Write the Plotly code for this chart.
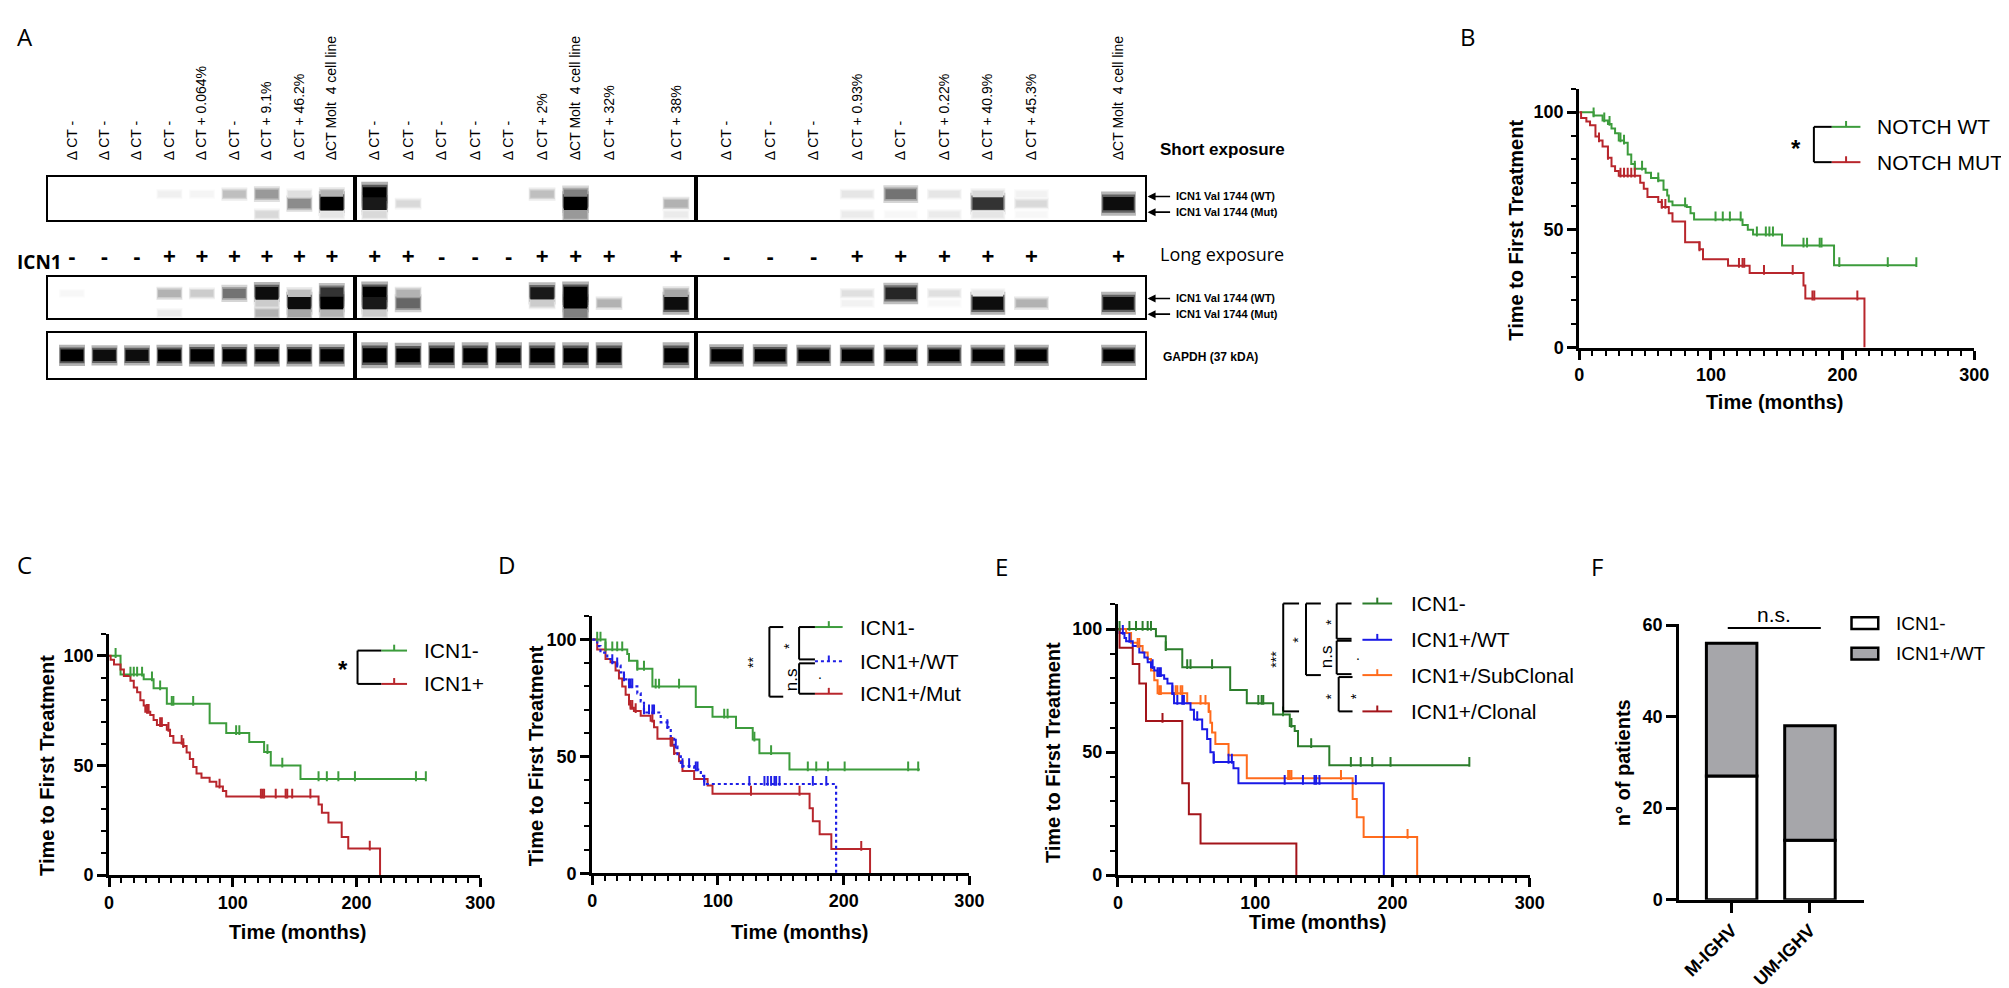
import numpy as np
import plotly.graph_objects as go

W, H = 2009, 988

# ---------------- panel A : western blot ----------------
lane_labels = [
    ["Δ CT -", "Δ CT -", "Δ CT -", "Δ CT -", "Δ CT + 0.064%", "Δ CT -", "Δ CT + 9.1%", "Δ CT + 46.2%", "ΔCT Molt  4 cell line"],
    ["Δ CT -", "Δ CT -", "Δ CT -", "Δ CT -", "Δ CT -", "Δ CT + 2%", "ΔCT Molt  4 cell line", "Δ CT + 32%", "", "Δ CT + 38%"],
    ["Δ CT -", "Δ CT -", "Δ CT -", "Δ CT + 0.93%", "Δ CT -", "Δ CT + 0.22%", "Δ CT + 40.9%", "Δ CT + 45.3%", "", "ΔCT Molt  4 cell line"],
]
icn1_status = [
    ["-", "-", "-", "+", "+", "+", "+", "+", "+"],
    ["+", "+", "-", "-", "-", "+", "+", "+", "", "+"],
    ["-", "-", "-", "+", "+", "+", "+", "+", "", "+"],
]

# band intensities (0 = no band, 1 = saturated)
short_wt = [[0, 0, 0, .06, .04, .25, .4, .12, .3],
            [1, 0, 0, 0, 0, .25, .5, 0, 0, 0],
            [0, 0, 0, .1, .55, .1, .15, .05, 0, 0]]
short_mut = [[0, 0, 0, 0, 0, 0, 0, .45, 1],
             [.9, .15, 0, 0, 0, 0, 1, 0, 0, .3],
             [0, 0, 0, 0, 0, 0, .8, .15, 0, .95]]
short_low = [[0, 0, 0, 0, 0, 0, .15, 0, .1],
             [.15, 0, 0, 0, 0, 0, .4, 0, 0, .08],
             [0, 0, 0, .08, .03, .08, .1, .03, 0, 0]]
long_wt = [[.03, 0, 0, .3, .2, .55, .95, .25, .8],
           [1, .3, 0, 0, 0, .9, 1, 0, 0, .35],
           [0, 0, 0, .12, .85, .12, .1, 0, 0, 0]]
long_mut = [[0, 0, 0, 0, 0, 0, .2, .95, 1],
            [.9, .6, 0, 0, 0, .2, 1, .3, 0, .95],
            [0, 0, 0, .05, 0, .03, .95, .3, 0, .95]]
long_low = [[0, 0, 0, .08, 0, 0, .3, .35, .3],
            [.2, 0, 0, 0, 0, 0, .5, 0, 0, 0],
            [0, 0, 0, 0, 0, 0, 0, 0, 0, 0]]
gapdh = [[.75, .7, .7, .75, .8, .8, .8, .8, .8],
         [1, .95, 1, 1, 1, 1, 1, 1, 0, 1],
         [.8, .8, .75, .75, .75, .75, .75, .75, 0, .75]]

# ---------------- panel B : NOTCH WT / MUT ----------------
b_wt_t = [10.9, 17.7, 21.8, 24.5, 27.2, 30.0, 34.0, 36.8, 39.5, 42.2, 50.4, 54.5, 60.0, 64.0, 66.8, 68.0,
          70.8, 81.7, 84.5, 87.2, 124.0, 128.0, 132.0, 154.0, 193.5]
b_wt_s = [98.6, 96.5, 95.0, 93.0, 91.0, 88.0, 87.0, 82.0, 78.0, 76.0, 74.3, 72.0, 71.0, 67.0, 64.6, 62.0,
          60.4, 59.7, 57.0, 54.4, 52.0, 50.0, 48.0, 43.3, 35.0]
b_wt_cens = [10.9, 19, 23, 31.3, 34, 42.2, 47.7, 60, 80.4, 103.5, 109, 114.4, 122.6, 134.9, 141.7, 144.4,
             147.1, 170.3, 173, 182.6, 184, 197.5, 234.3, 256]
b_mut_t = [1.4, 5.4, 8.2, 12.3, 15.0, 17.7, 21.8, 24.5, 27.2, 30.0, 46.3, 49.0, 51.8, 60.0, 62.7, 68.0,
           70.8, 80.4, 91.3, 94.0, 113.0, 129.4, 170.3, 171.7, 216.6]
b_mut_s = [97.5, 96.0, 94.4, 89.6, 88.0, 85.4, 80.6, 77.0, 75.0, 73.0, 70.0, 67.4, 64.0, 61.8, 59.7, 57.0,
           53.5, 44.7, 41.7, 37.5, 34.7, 31.7, 26.4, 20.8, 0]
b_mut_cens = [15, 21.8, 31.3, 34, 36.8, 39.5, 42.2, 62.7, 65.4, 91.3, 121.3, 124, 125.3, 140.3, 162.1,
              177.1, 178.5, 211.2]

# ---------------- panel C : ICN1- / ICN1+ ----------------
c_neg_t = [9.3, 28.0, 36.0, 46.7, 81.3, 94.7, 113.3, 125.3, 130.7, 154.7]
c_neg_s = [91.5, 89.3, 85.2, 78.2, 69.3, 64.8, 60.7, 56.2, 50.0, 43.8]
c_neg_cens = [5.3, 17.3, 20, 22.7, 26.7, 34.7, 41.3, 50.7, 52, 68, 102.7, 105.3, 128, 140, 169.3, 176,
              185.3, 198.7, 248, 256]
c_pos_t = [1.3, 4.0, 9.3, 12.0, 17.3, 20.0, 22.7, 25.3, 28.0, 29.3, 33.3, 36.0, 38.7, 46.7, 49.3, 52.0,
           60.0, 62.7, 65.3, 68.0, 70.7, 74.7, 81.3, 86.7, 92.0, 94.7, 169.3, 172.0, 177.3, 188.0, 193.3, 219.0]
c_pos_s = [98.2, 96.0, 93.8, 90.8, 88.6, 85.6, 83.4, 79.7, 77.4, 74.5, 73.0, 70.8, 68.5, 66.3, 63.4, 60.4,
           58.9, 55.9, 53.0, 49.3, 46.3, 44.4, 42.6, 40.4, 38.4, 35.9, 32.2, 28.5, 24.0, 17.4, 12.2, 0]
c_pos_cens = [30.7, 32, 41.3, 42.7, 48, 58.7, 60, 89.3, 122.7, 124, 125.3, 134.7, 142.7, 144, 148, 162.7, 210.7]

# ---------------- panel D : ICN1- / ICN1+/WT / ICN1+/Mut ----------------
d_neg_t = [10.6, 27.9, 29.3, 35.9, 47.9, 82.4, 95.7, 114.4, 127.7, 133.0, 156.9]
d_neg_s = [95.8, 93.8, 91.0, 87.5, 79.9, 71.1, 67.0, 62.2, 57.2, 51.4, 44.4]
d_neg_cens = [4, 6.6, 10.6, 16, 19.9, 23.9, 35.9, 41.2, 50.5, 53.2, 69.1, 105, 107.7, 129, 142.3, 171.5,
              178.2, 187.5, 200.8, 251.3, 259.3]
d_wt_t = [4.0, 6.6, 12.0, 16.0, 19.9, 22.6, 25.3, 29.3, 35.9, 38.6, 41.2, 54.5, 59.8, 62.5, 65.2, 67.8,
          70.5, 81.1, 86.4, 89.1, 194.0]
d_wt_s = [97.2, 94.4, 91.7, 90.3, 88.9, 86.0, 83.0, 80.0, 77.0, 73.6, 68.8, 64.6, 62.5, 58.3, 54.2, 50.0,
          45.8, 44.4, 41.7, 38.2, 0]
d_wt_cens = [16, 19.9, 25.3, 29.3, 30.6, 31.9, 41.2, 45.2, 47.9, 49.2, 59.8, 66.5, 71.8, 77.1, 82.4, 83.8,
             89.1, 125, 137, 139.6, 142.3, 145, 146.3, 149, 175.5, 186.2]
d_mut_t = [4.0, 10.6, 14.6, 18.6, 21.3, 23.9, 26.6, 29.3, 30.6, 33.2, 38.6, 46.5, 49.2, 51.9, 62.5, 65.2,
           69.1, 71.8, 81.1, 91.8, 95.7, 172.9, 175.5, 180.9, 190.2, 221.0]
d_mut_s = [95.8, 91.7, 90.3, 86.8, 83.3, 79.9, 76.4, 72.2, 70.8, 69.4, 67.4, 65.3, 62.5, 57.6, 54.9, 51.4,
           47.9, 43.75, 40.3, 37.5, 34.0, 27.8, 22.2, 16.7, 10.4, 0]
d_mut_cens = [30.6, 31.9, 34.6, 47.9, 62.5, 63.8, 65.2, 126.3, 164.9, 214]

# ---------------- panel E : ICN1- / WT / SubClonal / Clonal ----------------
e_neg_t = [27.7, 34.9, 46.9, 81.8, 93.9, 113.1, 125.2, 128.8, 131.2, 154.0]
e_neg_s = [97.1, 91.8, 84.5, 75.2, 69.9, 65.3, 60.6, 58.6, 52.4, 44.7]
e_neg_cens = [1.2, 8.4, 13.2, 18, 21.7, 24.1, 34.9, 50.5, 52.9, 68.6, 102.3, 104.7, 105.9, 120.3, 126.4,
              140.8, 169.7, 176.9, 185.3, 198.6, 256]
e_wt_t = [1.2, 4.8, 6.0, 10.8, 15.6, 19.3, 21.7, 24.1, 26.5, 28.9, 33.7, 36.1, 39.7, 40.9, 52.9, 55.4,
          61.4, 65.0, 67.4, 69.8, 84.2, 87.8, 193.7]
e_wt_s = [98.4, 96.4, 95.1, 93.1, 90.5, 88.5, 86.5, 84.5, 83.2, 81.2, 79.8, 77.9, 73.9, 69.9, 67.2, 63.3,
          59.3, 55.3, 50.0, 46.0, 43.4, 37.4, 0]
e_wt_cens = [3.6, 8.4, 25.3, 28.9, 30.1, 31.3, 39.7, 43.3, 46.9, 48.1, 57.8, 69.8, 80.6, 83, 121.5, 134.8,
             143.2, 144.4, 146.8, 173.3]
e_sub_t = [6.0, 9.6, 14.4, 18.0, 21.7, 24.1, 26.5, 28.9, 50.5, 66.2, 67.4, 68.6, 71.0, 80.6, 93.9, 171.0,
           174.0, 179.0, 218.0]
e_sub_s = [98.4, 94.4, 93.1, 90.5, 87.8, 83.2, 79.2, 73.9, 69.9, 66.6, 61.9, 58.0, 53.3, 48.7, 39.4, 31.0,
           23.5, 15.5, 0]
e_sub_cens = [14.4, 15.6, 30.1, 31.3, 42.1, 43.3, 45.7, 46.9, 60.2, 63.8, 66.2, 124, 125.2, 126.4, 162.5, 211]
e_clo_t = [1.2, 10.8, 15.6, 20.5, 46.9, 51.7, 60.2, 130.0]
e_clo_s = [92.4, 85.8, 77.9, 62.6, 37.4, 24.8, 12.9, 0]
e_clo_cens = [32.5]

# ---------------- panel F : IGHV status ----------------
f_groups = ["M-IGHV", "UM-IGHV"]
f_icn1_neg = [27, 13]
f_icn1_wt = [29, 25]


def X(p):
    return p / W


def Y(p):
    return 1 - p / H


fig = go.Figure()
layout = dict(width=W, height=H, margin=dict(l=0, r=0, t=0, b=0), paper_bgcolor="white",
              plot_bgcolor="white", showlegend=False, barmode="overlay",
              font=dict(family="Liberation Sans, Arial", color="black"))
shapes = []
annotations = []


def ax_names(i):
    return ("x" if i == 1 else f"x{i}"), ("y" if i == 1 else f"y{i}"), \
           ("xaxis" if i == 1 else f"xaxis{i}"), ("yaxis" if i == 1 else f"yaxis{i}")


def gray(v):
    g = int(round(255 * (1 - min(v, 1))))
    return f"rgb({g},{g},{g})"


def note(x, y, text, size=18, angle=0, family="Liberation Sans", anchor="center"):
    annotations.append(dict(x=X(x), y=Y(y), xref="paper", yref="paper", text=text, showarrow=False,
                            textangle=angle, xanchor=anchor, yanchor="middle",
                            font=dict(size=size, family=family, color="black")))


# --- blot strips ---
blot_px = [(35, 345), (345, 690), (690, 1143)]
blot_range = [(-0.75, 8.7), (-0.6, 9.6), (-0.7, 9.6)]
strip_px = [(163, 207), (265, 307), (322, 368)]
strip_sets = [
    [(short_wt, 0.6), (short_mut, 0.38), (short_low, 0.13)],
    [(long_wt, 0.6), (long_mut, 0.36), (long_low, 0.12)],
    [(gapdh, 0.5)],
]
# soft band edges: (thickness factor, width, darkness factor), drawn from outside in
band_layers = [(1.8, 0.8, 0.3), (1.35, 0.76, 0.65), (1.0, 0.7, 1.0)]

for s in range(3):
    for b in range(3):
        i = s * 3 + b + 1
        xr, yr, xk, yk = ax_names(i)
        xs, cen, th, val = [], [], [], []
        for arr, c in strip_sets[s]:
            for lane, v in enumerate(arr[b]):
                if v <= 0:
                    continue
                xs.append(lane)
                cen.append(c)
                val.append(min(1.0, v + 0.25) if s == 2 else v)
                th.append(0.08 + 0.24 * v if s == 2 else 0.12 + 0.2 * v)
        cen, th = np.array(cen), np.array(th)
        for tf, wd, df in band_layers:
            fig.add_trace(go.Bar(x=xs, y=th * tf, base=cen - th * tf / 2, width=wd,
                                 marker=dict(color=[gray(v * df) for v in val], line=dict(width=0)),
                                 xaxis=xr, yaxis=yr, hoverinfo="skip"))
        n = len(lane_labels[b])
        xa = dict(domain=[X(blot_px[b][0]), X(blot_px[b][1])], range=list(blot_range[b]),
                  anchor=yr, showline=True, mirror=True, linecolor="black", linewidth=1.6,
                  showgrid=False, zeroline=False, ticks="", fixedrange=True)
        if s == 0:
            xa.update(side="top", tickmode="array", tickvals=list(range(n)), ticktext=lane_labels[b],
                      tickangle=-90, tickfont=dict(size=14, family="Liberation Sans"),
                      ticklabelstandoff=12)
        elif s == 1:
            xa.update(side="top", tickmode="array", tickvals=list(range(n)), ticktext=icn1_status[b],
                      tickangle=0, tickfont=dict(size=22, family="Liberation Sans", weight="bold"),
                      ticklabelstandoff=2)
        else:
            xa.update(showticklabels=False)
        layout[xk] = xa
        layout[yk] = dict(domain=[Y(strip_px[s][1]), Y(strip_px[s][0])], range=[0, 1], anchor=xr,
                          showline=True, mirror=True, linecolor="black", linewidth=1.6,
                          showgrid=False, zeroline=False, showticklabels=False, ticks="",
                          fixedrange=True)

note(2, 250, "<b>ICN1</b>", 19, family="Open Sans", anchor="left")
note(1157, 135, "<b>Short exposure</b>", 17, anchor="left")
note(1157, 242, "Long exposure", 18, family="Open Sans", anchor="left")
for yy, lab in [(183, "(WT)"), (199, "(Mut)"), (287, "(WT)"), (303, "(Mut)")]:
    annotations.append(dict(x=X(1146), y=Y(yy), xref="paper", yref="paper", ax=24, ay=0, text="",
                            showarrow=True, arrowhead=2, arrowsize=1, arrowwidth=1.6,
                            arrowcolor="black"))
    note(1173, yy, "<b>ICN1 Val 1744 " + lab + "</b>", 11,
         family="Liberation Sans Narrow, Liberation Sans", anchor="left")
note(1160, 347, "<b>GAPDH (37 kDA)</b>", 12, family="Liberation Sans Narrow, Liberation Sans",
     anchor="left")


# --- Kaplan-Meier panels ---
def km_axes(i, x0, x1, y0, ytop):
    xr, yr, xk, yk = ax_names(i)
    tick = dict(ticks="outside", tickcolor="black", showgrid=False, zeroline=False,
                showline=True, linecolor="black", linewidth=3, tickwidth=2.5, ticklen=9,
                tickfont=dict(size=18, weight="bold"), fixedrange=True)
    layout[xk] = dict(domain=[X(x0), X(x1)], range=[0, 300], tick0=0, dtick=100, anchor=yr,
                      minor=dict(ticks="outside", tick0=0, dtick=10, ticklen=5, tickwidth=2,
                                 tickcolor="black", showgrid=False), **tick)
    layout[yk] = dict(domain=[Y(y0), Y(ytop)], range=[0, 110], tick0=0, dtick=50, anchor=xr,
                      minor=dict(ticks="outside", tick0=0, dtick=10, ticklen=5, tickwidth=2,
                                 tickcolor="black", showgrid=False), **tick)
    return xr, yr


def km_curve(times, surv, end, color, xr, yr, dash="solid", width=2):
    x = [0.0] + list(times)
    y = [100.0] + list(surv)
    if end > x[-1]:
        x.append(end)
        y.append(y[-1])
    fig.add_trace(go.Scatter(x=x, y=y, mode="lines", xaxis=xr, yaxis=yr, hoverinfo="skip",
                             line=dict(shape="hv", color=color, width=width, dash=dash)))


def km_censor(times, surv, cens, color, xr, yr):
    vals = np.r_[100.0, surv]
    idx = np.searchsorted(np.asarray(times), np.asarray(cens), side="right")
    fig.add_trace(go.Scatter(x=cens, y=vals[idx] + 1.3, mode="markers", xaxis=xr, yaxis=yr,
                             hoverinfo="skip",
                             marker=dict(symbol="line-ns", size=7, line=dict(color=color, width=2))))


def line(x0, y0, x1, y1, color="black", width=2, dash="solid"):
    shapes.append(dict(type="line", xref="paper", yref="paper", x0=X(x0), y0=Y(y0), x1=X(x1), y1=Y(y1),
                       line=dict(color=color, width=width, dash=dash)))


def legend_row(x0, x1, y, color, text, tx, dash="solid", size=21):
    line(x0, y, x1, y, color, 2, dash)
    line((x0 + x1) / 2, y - 6, (x0 + x1) / 2, y, color, 2)
    note(tx, y, text, size, anchor="left")


def bracket(x, y0, y1, xe):
    line(x, y0, x, y1)
    line(x, y0, xe, y0)
    line(x, y1, xe, y1)


def label(x, y, text, size=18, angle=0, family="Liberation Sans", bold=False):
    note(x, y, f"<b>{text}</b>" if bold else text, size, angle, family)


GREEN, RED, BLUE = "#3c9c3c", "#b8262c", "#1f1fe6"
E_GREEN, E_BLUE, E_ORANGE, E_RED = "#2b7d2b", "#1a1ae6", "#ff6b1c", "#a3141a"

# B
xr, yr = km_axes(10, 1582, 1981, 337, 73)
km_curve(b_wt_t, b_wt_s, 256, GREEN, xr, yr)
km_curve(b_mut_t, b_mut_s, 216.6, RED, xr, yr)
km_censor(b_wt_t, b_wt_s, b_wt_cens, GREEN, xr, yr)
km_censor(b_mut_t, b_mut_s, b_mut_cens, RED, xr, yr)
legend_row(1837, 1866, 112, GREEN, "NOTCH WT", 1881)
legend_row(1837, 1866, 148, RED, "NOTCH MUT", 1881)
bracket(1819, 112, 148, 1837)
label(1801, 134, "*", 24, bold=True)
label(1518, 217, "Time to First Treatment", 20, -90, bold=True)
label(1779, 393, "Time (months)", 20, bold=True)

# C
xr, yr = km_axes(11, 97, 472, 875, 629)
km_curve(c_neg_t, c_neg_s, 256, GREEN, xr, yr)
km_curve(c_pos_t, c_pos_s, 219, RED, xr, yr)
km_censor(c_neg_t, c_neg_s, c_neg_cens, GREEN, xr, yr)
km_censor(c_pos_t, c_pos_s, c_pos_cens, RED, xr, yr)
legend_row(372, 398, 646, GREEN, "ICN1-", 413)
legend_row(372, 398, 680, RED, "ICN1+", 413)
bracket(348, 646, 680, 372)
label(333, 665, "*", 24, bold=True)
label(35, 763, "Time to First Treatment", 20, -90, bold=True)
label(287, 933, "Time (months)", 20, bold=True)

# D
xr, yr = km_axes(12, 585, 966, 873, 611)
km_curve(d_neg_t, d_neg_s, 260.6, GREEN, xr, yr)
km_curve(d_mut_t, d_mut_s, 221, RED, xr, yr)
km_curve(d_wt_t, d_wt_s, 194, BLUE, xr, yr, dash="dot", width=2.2)
km_censor(d_neg_t, d_neg_s, d_neg_cens, GREEN, xr, yr)
km_censor(d_mut_t, d_mut_s, d_mut_cens, RED, xr, yr)
km_censor(d_wt_t, d_wt_s, d_wt_cens, BLUE, xr, yr)
legend_row(810, 838, 622, GREEN, "ICN1-", 853)
legend_row(810, 838, 657, BLUE, "ICN1+/WT", 853, dash="dot")
legend_row(810, 838, 690, RED, "ICN1+/Mut", 853)
bracket(794, 622, 655, 810)
bracket(794, 659, 690, 810)
bracket(764, 622, 693, 778)
label(783, 641, "*", 14, -90)
label(786, 676, "n.s", 17, -90)
label(748, 658, "**", 14, -90)
label(815, 670, ".", 14)
label(528, 753, "Time to First Treatment", 20, -90, bold=True)
label(794, 933, "Time (months)", 20, bold=True)

# E
xr, yr = km_axes(13, 1116, 1532, 875, 599)
km_curve(e_neg_t, e_neg_s, 256, E_GREEN, xr, yr)
km_curve(e_sub_t, e_sub_s, 218, E_ORANGE, xr, yr)
km_curve(e_wt_t, e_wt_s, 193.7, E_BLUE, xr, yr)
km_curve(e_clo_t, e_clo_s, 130, E_RED, xr, yr)
km_censor(e_neg_t, e_neg_s, e_neg_cens, E_GREEN, xr, yr)
km_censor(e_sub_t, e_sub_s, e_sub_cens, E_ORANGE, xr, yr)
km_censor(e_wt_t, e_wt_s, e_wt_cens, E_BLUE, xr, yr)
km_censor(e_clo_t, e_clo_s, e_clo_cens, E_RED, xr, yr)
legend_row(1363, 1393, 598, E_GREEN, "ICN1-", 1410)
legend_row(1363, 1393, 635, E_BLUE, "ICN1+/WT", 1410)
legend_row(1363, 1393, 671, E_ORANGE, "ICN1+/SubClonal", 1410)
legend_row(1363, 1393, 708, E_RED, "ICN1+/Clonal", 1410)
bracket(1283, 598, 708, 1299)
bracket(1306, 598, 671, 1321)
bracket(1337, 598, 634, 1352)
bracket(1337, 636, 670, 1352)
bracket(1339, 673, 708, 1353)
label(1276, 655, "***", 14, -90)
label(1298, 635, "*", 14, -90)
label(1331, 617, "*", 14, -90)
label(1327, 652, "n.s", 17, -90)
label(1359, 651, ".", 14)
label(1331, 693, "*", 14, -90)
label(1356, 693, "*", 14, -90)
label(1050, 750, "Time to First Treatment", 20, -90, bold=True)
label(1318, 923, "Time (months)", 20, bold=True)

# F
xr, yr, xk, yk = ax_names(14)
fig.add_trace(go.Bar(x=[0, 1], y=f_icn1_neg, base=[0, 0], width=0.645, xaxis=xr, yaxis=yr,
                     marker=dict(color="white", line=dict(color="black", width=3)), hoverinfo="skip"))
fig.add_trace(go.Bar(x=[0, 1], y=f_icn1_wt, base=f_icn1_neg, width=0.645, xaxis=xr, yaxis=yr,
                     marker=dict(color="#a6a6aa", line=dict(color="black", width=3)), hoverinfo="skip"))
ftick = dict(ticks="outside", tickcolor="black", showgrid=False, zeroline=False, showline=True,
             linecolor="black", linewidth=3, tickwidth=3, ticklen=10,
             tickfont=dict(size=18, weight="bold"), fixedrange=True)
layout[xk] = dict(domain=[X(1683), X(1870)], range=[-0.669, 1.695], tickmode="array", tickvals=[0, 1],
                  ticktext=f_groups, tickangle=-45, anchor=yr, **ftick)
layout[yk] = dict(domain=[Y(900), Y(619)], range=[0, 60.2], tick0=0, dtick=20, anchor=xr, **ftick)
line(1732, 623, 1826, 623, width=2)
label(1779, 609, "n.s.", 21)
for yy, fill, txt in [(618, "white", "ICN1-"), (649, "#a6a6aa", "ICN1+/WT")]:
    shapes.append(dict(type="rect", xref="paper", yref="paper", x0=X(1857), x1=X(1884),
                       y0=Y(yy + 6), y1=Y(yy - 6), fillcolor=fill, line=dict(color="black", width=2.5)))
    note(1900, yy, txt, 19, anchor="left")
label(1627, 760, "n° of patients", 20, -90, bold=True)

# panel letters
for letter, lx, ly in [("A", 12, 20), ("B", 1470, 20), ("C", 12, 558), ("D", 498, 558),
                       ("E", 998, 560), ("F", 1600, 560)]:
    label(lx, ly, letter, 24, family="Open Sans")

layout["shapes"] = shapes
layout["annotations"] = annotations
fig.update_layout(**layout)

fig.write_html("out.html")
